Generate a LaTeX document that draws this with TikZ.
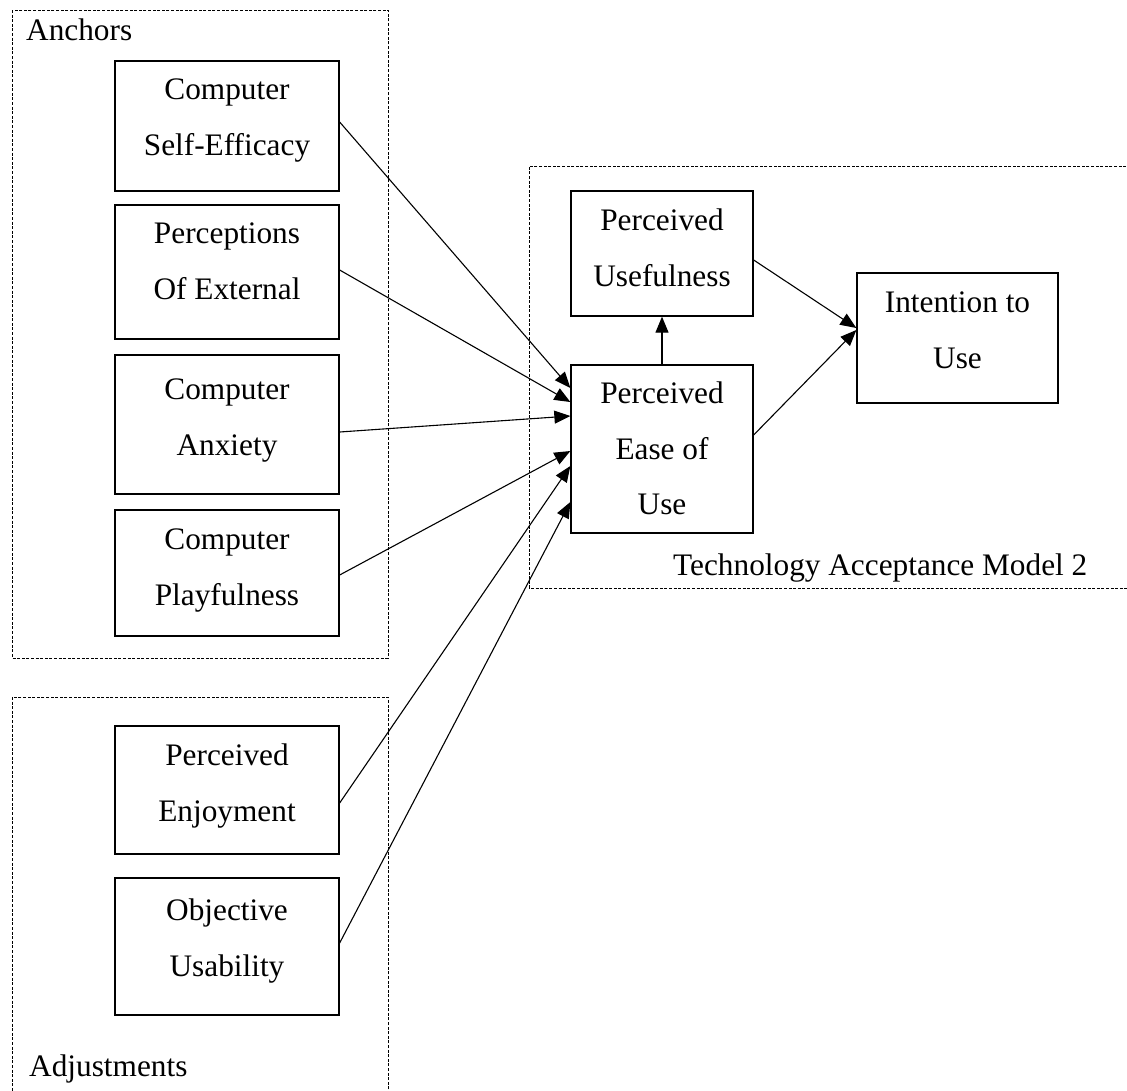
\documentclass[tikz,border=0pt]{standalone}
\usepackage{fontspec}
\setmainfont{Liberation Serif}
\usetikzlibrary{arrows.meta}

\tikzset{
  factor/.style={draw, line width=1.3pt, rectangle, inner sep=0pt},
  factortext/.style={align=center, inner sep=0pt, anchor=north,
    font=\fontsize{31.3}{55.5}\selectfont},
  group/.style={draw, line width=0.9pt, dash pattern=on 3pt off 1.6pt},
  grouplabel/.style={inner sep=0pt, anchor=base west, font=\fontsize{31.3}{40}\selectfont},
  link/.style={line width=1.1pt, -{Triangle[length=16pt,width=13pt]}}
}

\begin{document}
\begin{tikzpicture}[x=1pt,y=-1pt]
\useasboundingbox (0,0) rectangle (1127,1090);
\clip (0,0) rectangle (1127,1090);
\fill[white] (0,0) rectangle (1127,1090);

% dashed groupings
\draw[group] (12,10) rectangle (388,658);
\draw[group] (12,697) rectangle (388,1110);
\draw[group] (1140,166) -- (529,166) -- (529,588) -- (1140,588);

\node[grouplabel] (anchorslbl) at (26,40) {Anchors};
\node[grouplabel] (adjlbl) at (29,1076) {Adjustments};
\node[grouplabel] (tamlbl) at (673,575) {Technology Acceptance Model 2};

% anchor constructs
\node[factor, minimum width=224pt, minimum height=130pt] (cse)  at (227,126)   {};
\node[factor, minimum width=224pt, minimum height=134pt] (pext) at (227,272)   {};
\node[factor, minimum width=224pt, minimum height=139pt] (anx)  at (227,424.5) {};
\node[factor, minimum width=224pt, minimum height=126pt] (play) at (227,573)   {};
\node[factortext] (cse-t)  at ([yshift=-18.5pt]cse.north)  {Computer\\Self-Efficacy};
\node[factortext] (pext-t) at ([yshift=-18.5pt]pext.north) {Perceptions\\Of External};
\node[factortext] (anx-t)  at ([yshift=-24.5pt]anx.north)  {Computer\\Anxiety};
\node[factortext] (play-t) at ([yshift=-19.5pt]play.north) {Computer\\Playfulness};

% adjustment constructs
\node[factor, minimum width=224pt, minimum height=128pt] (enj)  at (227,790)   {};
\node[factor, minimum width=224pt, minimum height=137pt] (usab) at (227,946.5) {};
\node[factortext] (enj-t)  at ([yshift=-18.5pt]enj.north)  {Perceived\\Enjoyment};
\node[factortext] (usab-t) at ([yshift=-21.5pt]usab.north) {Objective\\Usability};

% TAM2 core
\node[factor, minimum width=182pt, minimum height=125pt] (pu)   at (662,253.5) {};
\node[factor, minimum width=182pt, minimum height=168pt] (peou) at (662,449)   {};
\node[factor, minimum width=201pt, minimum height=130pt] (itu)  at (957.5,338) {};
\node[factortext] (pu-t)   at ([yshift=-18.5pt]pu.north)   {Perceived\\Usefulness};
\node[factortext] (peou-t) at ([yshift=-17.5pt]peou.north) {Perceived\\Ease of\\Use};
\node[factortext] (itu-t)  at ([yshift=-19.5pt]itu.north)  {Intention to\\Use};

% determinants of perceived ease of use
\draw[link] ([yshift=4pt]cse.east)    -- ([yshift=61pt]peou.west);
\draw[link] ([yshift=2pt]pext.east)   -- ([yshift=47pt]peou.west);
\draw[link] ([yshift=-7.5pt]anx.east) -- ([yshift=33pt]peou.west);
\draw[link] ([yshift=-2pt]play.east)  -- ([yshift=-2pt]peou.west);
\draw[link] ([yshift=-13pt]enj.east)  -- ([yshift=-17pt]peou.west);
\draw[link] ([yshift=3.5pt]usab.east) -- ([yshift=-53pt]peou.west);

% TAM2 relations
\draw[link] (peou.north) -- (pu.south);
\draw[link] ([yshift=-6.5pt]pu.east) -- ([yshift=10pt]itu.west);
\draw[link] ([yshift=14pt]peou.east) -- ([yshift=8pt]itu.west);
\end{tikzpicture}
\end{document}
